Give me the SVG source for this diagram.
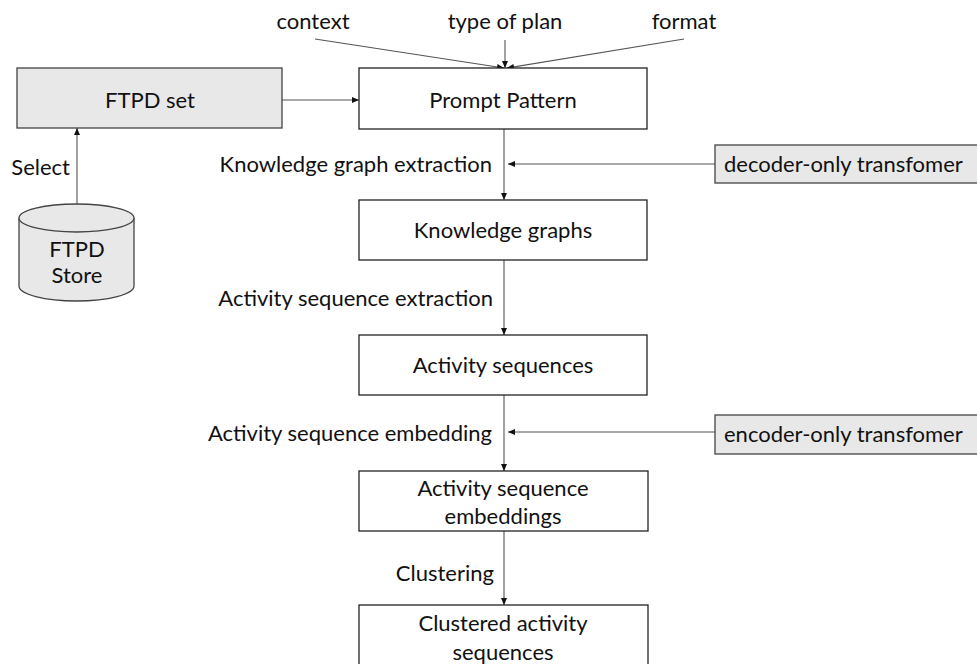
<svg xmlns="http://www.w3.org/2000/svg" width="977" height="664" viewBox="0 0 977 664">
<style>
text{font-family:Lato,"Open Sans","Liberation Sans",sans-serif;font-size:22px;fill:#111}
.c{text-anchor:middle}
.e{text-anchor:end}
.box{fill:#fff;stroke:#222;stroke-width:1.3}
.gbox{fill:#e8e8e8;stroke:#444;stroke-width:1.3}
.ln{stroke:#555;stroke-width:1.1;fill:none}
</style>
<defs>
<marker id="ah" markerWidth="8" markerHeight="8" refX="7" refY="4" orient="auto" markerUnits="userSpaceOnUse">
<path d="M0,1 L7,4 L0,7 z" fill="#111"/>
</marker>
</defs>
<rect width="977" height="664" fill="#fff"/>
<g id="connectors">
<line class="ln" x1="315" y1="39" x2="504" y2="68" marker-end="url(#ah)"/>
<line class="ln" x1="505" y1="40" x2="505" y2="68" marker-end="url(#ah)"/>
<line class="ln" x1="684" y1="39" x2="507" y2="68" marker-end="url(#ah)"/>
<line class="ln" x1="282" y1="100" x2="359" y2="100" marker-end="url(#ah)"/>
<line class="ln" x1="77" y1="204" x2="77" y2="128" marker-end="url(#ah)"/>
<line class="ln" x1="504" y1="129" x2="504" y2="200" marker-end="url(#ah)"/>
<line class="ln" x1="715" y1="164" x2="508" y2="164" marker-end="url(#ah)"/>
<line class="ln" x1="504" y1="260" x2="504" y2="335" marker-end="url(#ah)"/>
<line class="ln" x1="504" y1="395" x2="504" y2="471" marker-end="url(#ah)"/>
<line class="ln" x1="715" y1="432" x2="508" y2="432" marker-end="url(#ah)"/>
<line class="ln" x1="504" y1="531" x2="504" y2="605" marker-end="url(#ah)"/>
</g>
<g id="labels">
<text x="313" y="29" class="c">context</text>
<text x="505" y="29" class="c">type of plan</text>
<text x="684" y="29" class="c">format</text>
<text x="70" y="175" class="e">Select</text>
<text x="492" y="172" class="e">Knowledge graph extraction</text>
<text x="493" y="306" class="e">Activity sequence extraction</text>
<text x="492" y="441" class="e">Activity sequence embedding</text>
<text x="494" y="581" class="e">Clustering</text>
</g>
<g id="ftpd-set">
<rect class="gbox" x="17" y="68" width="265" height="60"/>
<text x="150" y="108" class="c">FTPD set</text>
</g>
<g id="prompt-pattern">
<rect class="box" x="359" y="68" width="288" height="61"/>
<text x="503" y="108" class="c">Prompt Pattern</text>
</g>
<g id="ftpd-store">
<path class="gbox" d="M19,218 L19,286 A57.5,15 0 0 0 134,286 L134,218"/>
<ellipse class="gbox" cx="76.5" cy="218" rx="57.5" ry="14"/>
<text x="77" y="257" class="c">FTPD</text>
<text x="77" y="283" class="c">Store</text>
</g>
<g id="decoder">
<rect class="gbox" x="715" y="145" width="270" height="38"/>
<text x="724" y="172">decoder-only transfomer</text>
</g>
<g id="knowledge-graphs">
<rect class="box" x="359" y="200" width="288" height="60"/>
<text x="503" y="238" class="c">Knowledge graphs</text>
</g>
<g id="activity-sequences">
<rect class="box" x="359" y="335" width="288" height="60"/>
<text x="503" y="373" class="c">Activity sequences</text>
</g>
<g id="encoder">
<rect class="gbox" x="715" y="415" width="270" height="39"/>
<text x="724" y="442">encoder-only transfomer</text>
</g>
<g id="embeddings">
<rect class="box" x="359" y="471" width="289" height="60"/>
<text x="503" y="496" class="c">Activity sequence</text>
<text x="503" y="524" class="c">embeddings</text>
</g>
<g id="clustered">
<rect class="box" x="359" y="605" width="289" height="70"/>
<text x="503" y="631" class="c">Clustered activity</text>
<text x="503" y="660" class="c">sequences</text>
</g>
</svg>
